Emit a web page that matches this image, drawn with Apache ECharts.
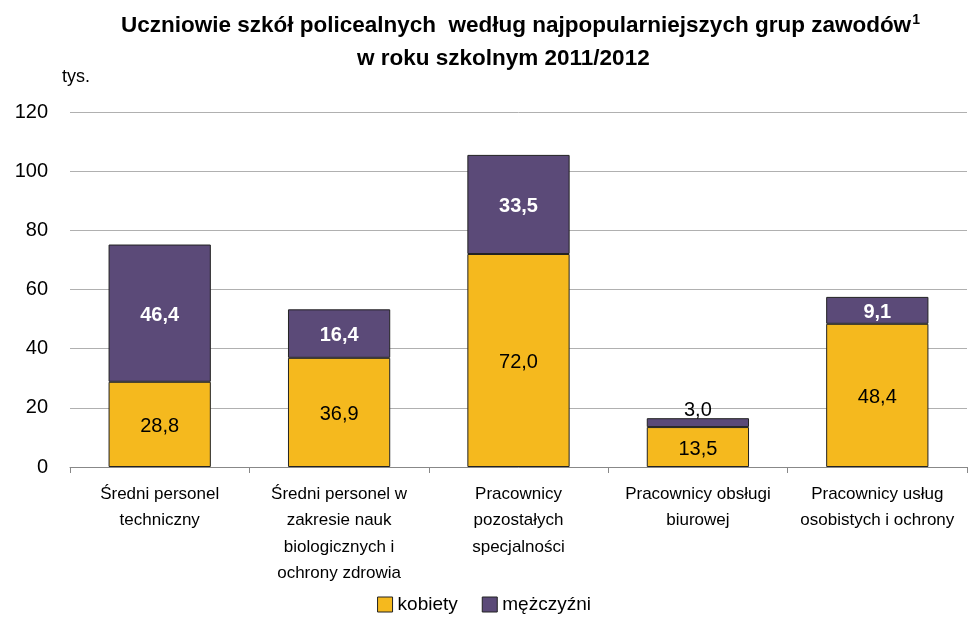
<!DOCTYPE html>
<html>
<head>
<meta charset="utf-8">
<script src="https://cdn.jsdelivr.net/npm/echarts@6/dist/echarts.min.js"></script>
<style>
  html, body { margin: 0; padding: 0; background: #fff; }
  #chart { width: 968px; height: 619px; }
</style>
</head>
<body>
<div id="chart"></div>
<script>
const titleLines = [
  'Uczniowie szkół policealnych  według najpopularniejszych grup zawodów{s|1}',
  'w roku szkolnym 2011/2012'
]
const categories = [
  'Średni personel\ntechniczny',
  'Średni personel w\nzakresie nauk\nbiologicznych i\nochrony zdrowia',
  'Pracownicy\npozostałych\nspecjalności',
  'Pracownicy obsługi\nbiurowej',
  'Pracownicy usług\nosobistych i ochrony'
]
const kobiety = [28.8, 36.9, 72.0, 13.5, 48.4]
const mezczyzni = [46.4, 16.4, 33.5, 3.0, 9.1]

const font = '"Liberation Sans", sans-serif'
const fmt = (p) => p.value.toFixed(1).replace('.', ',')
const titleStyle = {
  fontFamily: font, fontSize: 22.5, fontWeight: 'bold', color: '#000',
  rich: { s: { fontFamily: font, fontSize: 14, fontWeight: 'bold', color: '#000', verticalAlign: 'top', padding: [0, 0, 12, 1] } }
}

const chart = echarts.init(document.getElementById('chart'))
chart.setOption({
  animation: false,
  title: [
    { text: titleLines[0], left: 116, top: 8, textStyle: titleStyle },
    { text: titleLines[1], left: 352, top: 42, textStyle: titleStyle }
  ],
  legend: {
    bottom: 0,
    left: 'center',
    icon: 'rect',
    itemWidth: 15,
    itemHeight: 15,
    itemGap: 24,
    textStyle: { fontFamily: font, fontSize: 19, color: '#000' },
    data: [
      { name: 'kobiety', itemStyle: { borderColor: '#222', borderWidth: 1 } },
      { name: 'mężczyźni', itemStyle: { borderColor: '#222', borderWidth: 1 } }
    ]
  },
  grid: { left: 70, right: 1, top: 112, bottom: 152 },
  xAxis: {
    type: 'category',
    data: categories,
    axisLine: { lineStyle: { color: '#888' } },
    axisTick: { show: true, length: 6, lineStyle: { color: '#888' } },
    axisLabel: { fontFamily: font, fontSize: 17, color: '#000', lineHeight: 26.5, margin: 14, interval: 0 }
  },
  yAxis: {
    type: 'value',
    min: 0,
    max: 120,
    interval: 20,
    name: 'tys.',
    nameLocation: 'end',
    nameGap: 26,
    nameTextStyle: { fontFamily: font, fontSize: 18, color: '#000', align: 'right', padding: [0, -20, 0, 0] },
    axisLine: { show: false },
    axisTick: { show: false },
    axisLabel: { fontFamily: font, fontSize: 20, color: '#000', margin: 22 },
    splitLine: { lineStyle: { color: '#b0b0b0' } }
  },
  series: [
    {
      name: 'kobiety',
      type: 'bar',
      stack: 'a',
      barWidth: '57%',
      data: kobiety,
      itemStyle: { color: '#f5b91e', borderColor: '#222', borderWidth: 1 },
      label: { show: true, position: 'inside', offset: [0, 2], formatter: fmt, fontFamily: font, fontSize: 20, color: '#000' }
    },
    {
      name: 'mężczyźni',
      type: 'bar',
      stack: 'a',
      data: mezczyzni.map((v) => v < 5
        ? { value: v, label: { position: 'top', distance: -2, offset: [0, 0], color: '#000', fontWeight: 'normal' } }
        : v),
      itemStyle: { color: '#5b4a78', borderColor: '#222', borderWidth: 1 },
      label: { show: true, position: 'inside', offset: [0, 2], formatter: fmt, fontFamily: font, fontSize: 20, fontWeight: 'bold', color: '#fff' }
    }
  ]
})
</script>
</body>
</html>
